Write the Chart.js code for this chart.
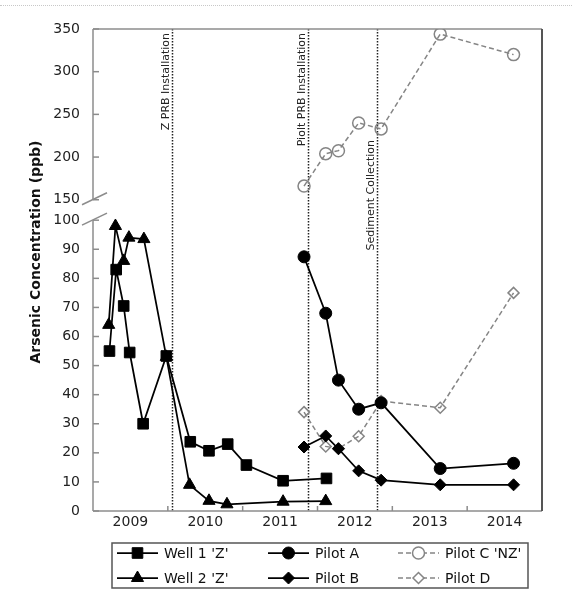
<!DOCTYPE html>
<html>
<head>
<meta charset="utf-8">
<script src="https://cdn.jsdelivr.net/npm/chart.js@4.4.1/dist/chart.umd.min.js"></script>
<style>
  html, body { margin: 0; padding: 0; background: #fff; }
  #wrap { position: relative; width: 572px; height: 593px; }
  #wrap::before { content: ""; position: absolute; left: 0; right: 0; top: 5px; border-top: 1px dotted #c8c8c8; }
</style>
</head>
<body>
<div id="wrap"><canvas id="arsenicChart" width="572" height="593"></canvas></div>
<script>
// sampling dates as decimal years
const yearLabels = ["2009", "2010", "2011", "2012", "2013", "2014"];
const lowerTicks = [0, 10, 20, 30, 40, 50, 60, 70, 80, 90, 100];
const upperTicks = [150, 200, 250, 300, 350];

const well1Dates = [2009.22, 2009.31, 2009.41, 2009.49, 2009.67, 2009.98, 2010.30, 2010.55, 2010.80, 2011.05, 2011.54, 2012.12];
const well1Values = [55, 83, 70.5, 54.5, 30, 53.3, 23.8, 20.7, 23, 15.8, 10.4, 11.2];

const well2Dates = [2009.21, 2009.30, 2009.41, 2009.48, 2009.68, 2009.98, 2010.29, 2010.55, 2010.79, 2011.54, 2012.11];
const well2Values = [64, 98, 86, 94, 93.5, 53, 9, 3.5, 2.3, 3.2, 3.4];

const pilotDates = [2011.82, 2012.11, 2012.28, 2012.55, 2012.85, 2013.64, 2014.62];
const pilotAValues = [87.4, 68, 45, 35, 37.2, 14.6, 16.4];
const pilotBValues = [22, 25.8, 21.4, 13.8, 10.6, 9, 9];
const pilotCValues = [166, 204, 207.5, 240, 233, 344, 320];
const pilotDValues = [34, 22.2, 21.5, 25.7, 37.8, 35.5, 75];

const eventDates = [2010.05, 2011.87, 2012.79];
const eventLabels = ["Z PRB Installation", "Piolt PRB Installation", "Sediment Collection"];

const FONT = '"DejaVu Sans", Verdana, sans-serif';

function series(dates, values) {
  return dates.map((d, i) => ({ x: d, y: values[i] }));
}

const solid = {
  borderColor: "#000",
  backgroundColor: "#000",
  pointBorderColor: "#000",
  pointBackgroundColor: "#000",
  borderWidth: 1.75,
  pointBorderWidth: 1,
  yAxisID: "y",
};
const dashed = {
  borderColor: "#858585",
  backgroundColor: "rgba(255,255,255,0)",
  pointBorderColor: "#858585",
  pointBackgroundColor: "rgba(255,255,255,0)",
  borderWidth: 1.5,
  borderDash: [5, 3],
  pointBorderWidth: 1.5,
  yAxisID: "y",
};

// frame, broken axis marks, inside ticks, event lines
const frameAndNotes = {
  id: "frameAndNotes",
  beforeDatasetsDraw(chart, args, opts) {
    const { ctx, chartArea: a, scales } = chart;
    const x = scales.x, y = scales.y, yTop = scales.yTop;
    const line = (x1, y1, x2, y2) => {
      ctx.beginPath(); ctx.moveTo(x1, y1); ctx.lineTo(x2, y2); ctx.stroke();
    };
    ctx.save();

    ctx.strokeStyle = "#222";
    ctx.lineWidth = 1.5;
    ctx.setLineDash([1.5, 1.5]);
    eventDates.forEach((d) => {
      const px = Math.round(x.getPixelForValue(d)) + 0.5;
      line(px, a.top, px, a.bottom);
    });
    ctx.setLineDash([]);

    ctx.font = "11px " + FONT;
    ctx.fillStyle = "#222";
    ctx.textAlign = "right";
    ctx.textBaseline = "alphabetic";
    eventDates.forEach((d, i) => {
      ctx.save();
      ctx.translate(x.getPixelForValue(d) - 3, a.top + opts.labelDrop[i]);
      ctx.rotate(-Math.PI / 2);
      ctx.fillText(eventLabels[i], 0, 0);
      ctx.restore();
    });

    const cut150 = yTop.getPixelForValue(upperTicks[0]);
    const cut100 = y.getPixelForValue(lowerTicks[lowerTicks.length - 1]);
    ctx.strokeStyle = "#8c8c8c";
    ctx.lineWidth = 1.5;
    line(a.left, a.top, a.right, a.top);
    line(a.left, a.bottom, a.right, a.bottom);
    line(a.left, a.top, a.left, cut150);
    line(a.left, cut100, a.left, a.bottom);
    [cut150, cut100].forEach((py) => line(a.left - 11, py + 5, a.left + 14, py - 7));

    lowerTicks.forEach((v) => { const py = y.getPixelForValue(v); line(a.left, py, a.left + 6, py); });
    upperTicks.forEach((v) => { const py = yTop.getPixelForValue(v); line(a.left, py, a.left + 6, py); });
    yearLabels.slice(1).forEach((lbl) => {
      const px = x.getPixelForValue(Number(lbl));
      line(px, a.bottom, px, a.bottom - 5);
    });

    ctx.strokeStyle = "#555";
    ctx.lineWidth = 2;
    line(a.right, a.top, a.right, a.bottom);
    ctx.restore();
  },
  afterDraw(chart, args, opts) {
    const { ctx } = chart;
    ctx.save();

    // y axis title spanning both panels
    ctx.font = "bold 14px " + FONT;
    ctx.fillStyle = "#111";
    ctx.textAlign = "center";
    ctx.textBaseline = "middle";
    ctx.translate(opts.titleX, opts.titleY);
    ctx.rotate(-Math.PI / 2);
    ctx.fillText("Arsenic Concentration (ppb)", 0, 0);
    ctx.setTransform(1, 0, 0, 1, 0, 0);

    // legend, filled column by column
    const L = opts.legend;
    ctx.strokeStyle = "#555";
    ctx.lineWidth = 1.5;
    ctx.strokeRect(L.left, L.top, L.right - L.left, L.bottom - L.top);
    ctx.font = "14px " + FONT;
    ctx.textAlign = "left";
    chart.data.datasets.forEach((ds, i) => {
      const cx = L.cols[Math.floor(i / 2)];
      const cy = L.rows[i % 2];
      ctx.save();
      ctx.strokeStyle = ds.borderColor;
      ctx.lineWidth = ds.borderWidth;
      ctx.setLineDash(ds.borderDash || []);
      ctx.beginPath(); ctx.moveTo(cx, cy); ctx.lineTo(cx + L.lineLen, cy); ctx.stroke();
      ctx.setLineDash([]);
      ctx.fillStyle = ds.pointBackgroundColor === "#000" ? "#000" : "#fff";
      ctx.strokeStyle = ds.pointBorderColor;
      ctx.lineWidth = ds.pointBorderWidth;
      Chart.helpers.drawPoint(ctx, {
        pointStyle: ds.pointStyle, radius: ds.pointRadius, rotation: 0, borderWidth: ds.pointBorderWidth,
      }, cx + L.lineLen / 2, cy);
      ctx.restore();
      ctx.fillStyle = "#111";
      ctx.textBaseline = "middle";
      ctx.fillText(ds.label, cx + L.lineLen + 6, cy + 1);
    });
    ctx.restore();
  },
};

const tickFont = { family: FONT, size: 14 };

new Chart(document.getElementById("arsenicChart"), {
  type: "line",
  data: {
    datasets: [
      { label: "Well 1 'Z'", data: series(well1Dates, well1Values), pointStyle: "rect", pointRadius: 7.5, ...solid },
      { label: "Well 2 'Z'", data: series(well2Dates, well2Values), pointStyle: "triangle", pointRadius: 7, ...solid },
      { label: "Pilot A", data: series(pilotDates, pilotAValues), pointStyle: "circle", pointRadius: 6, ...solid },
      { label: "Pilot B", data: series(pilotDates, pilotBValues), pointStyle: "rectRot", pointRadius: 6, ...solid },
      { label: "Pilot C 'NZ'", data: series(pilotDates, pilotCValues), pointStyle: "circle", pointRadius: 6, ...dashed, yAxisID: "yTop" },
      { label: "Pilot D", data: series(pilotDates, pilotDValues), pointStyle: "rectRot", pointRadius: 5.5, ...dashed },
    ],
  },
  options: {
    responsive: false,
    animation: false,
    layout: { padding: { top: 29, right: 30, bottom: 0, left: 0 } },
    elements: { line: { tension: 0 } },
    scales: {
      x: {
        type: "linear",
        min: 2009,
        max: 2015,
        grid: { display: false, drawTicks: false },
        border: { display: false },
        ticks: {
          autoSkip: false,
          maxRotation: 0,
          padding: 3,
          color: "#222",
          font: tickFont,
          callback: (v, i) => yearLabels[i],
        },
        afterBuildTicks: (s) => { s.ticks = yearLabels.map((l) => ({ value: Number(l) + 0.5 })); },
        afterFit: (s) => { s.height = 82; },
      },
      y: {
        type: "linear",
        position: "left",
        stack: "conc",
        stackWeight: 301,
        min: 0,
        max: 103.5,
        grid: { display: false, drawTicks: false },
        border: { display: false },
        ticks: { autoSkip: false, padding: 13, color: "#222", font: tickFont },
        afterBuildTicks: (s) => { s.ticks = lowerTicks.map((v) => ({ value: v })); },
        afterFit: (s) => { s.width = 93; },
      },
      yTop: {
        type: "linear",
        position: "left",
        stack: "conc",
        stackWeight: 181,
        min: 138,
        max: 350,
        grid: { display: false, drawTicks: false },
        border: { display: false },
        ticks: { autoSkip: false, padding: 13, color: "#222", font: tickFont },
        afterBuildTicks: (s) => { s.ticks = upperTicks.map((v) => ({ value: v })); },
        afterFit: (s) => { s.width = 93; },
      },
    },
    plugins: {
      legend: { display: false },
      tooltip: { enabled: false },
      frameAndNotes: {
        labelDrop: [4, 4, 111],
        titleX: 36,
        titleY: 252,
        legend: { left: 112, top: 543, right: 528, bottom: 588, cols: [117, 268, 398], rows: [553, 578], lineLen: 41 },
      },
    },
  },
  plugins: [frameAndNotes],
});
</script>
</body>
</html>
